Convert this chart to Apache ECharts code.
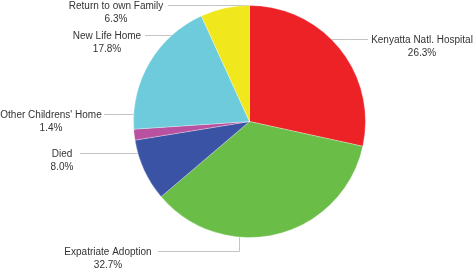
<!DOCTYPE html>
<html lang="en">
<head>
  <meta charset="UTF-8">
  <title>Where the children went</title>
  <style>
    * { margin: 0; padding: 0; }
    body { background: #fff; }
    #chart { width: 475px; height: 269px; }
  </style>
  <script src="https://cdn.jsdelivr.net/npm/echarts@6/dist/echarts.min.js"></script>
</head>
<body>
  <div id="chart"></div>
  <script>
    // slices, clockwise from 12 o'clock
    const names = ['Kenyatta Natl. Hospital', 'Expatriate Adoption', 'Died', "Other Childrens' Home", 'New Life Home', 'Return to own Family'];
    const shares = [26.3, 32.7, 8.0, 1.4, 17.8, 6.3];
    const colors = ['#ec2227', '#6abd46', '#3b53a4', '#b8519f', '#6dcbdc', '#f0e81d'];

    // pie geometry (px)
    const CX = 249.5, CY = 121.5, R = 116;

    // label spots: y of leader line, centre x of text, where the line stops near the text
    const spots = [
      { y: 39.5, tx: 422, end: 368 },
      { y: 251.5, tx: 108, end: 158, bendX: 239.5 },
      { y: 153.5, tx: 62, end: 80 },
      { y: 114.5, tx: 51, end: 104 },
      { y: 35.5, tx: 107, end: 145 },
      { y: 5.5, tx: 116, end: 168 }
    ];

    function edgeX(y, right) {
      const d = Math.sqrt(Math.max(0, R * R - (y - CY) * (y - CY)));
      return right ? CX + d : CX - d;
    }

    const chart = echarts.init(document.getElementById('chart'));
    chart.setOption({
      animation: false,
      color: colors,
      series: [{
        type: 'pie',
        center: [CX, CY],
        radius: R,
        startAngle: 90,
        clockwise: true,
        data: names.map((n, i) => ({ name: n, value: shares[i] })),
        itemStyle: { borderColor: 'rgba(255,255,255,0.6)', borderWidth: 0.5 },
        label: {
          show: true,
          overflow: 'none',
          formatter: p => p.name + '\n' + p.value.toFixed(1) + '%',
          fontFamily: 'Liberation Sans, Arial, sans-serif',
          fontSize: 10,
          lineHeight: 13.5,
          color: '#333'
        },
        labelLine: { show: true, lineStyle: { color: '#c4c4c4', width: 1 } },
        labelLayout: function (params) {
          const s = spots[params.dataIndex];
          let pts;
          if (s.bendX) {
            const ey = CY + Math.sqrt(R * R - (s.bendX - CX) * (s.bendX - CX));
            pts = [[s.bendX, ey], [s.bendX, s.y], [s.end, s.y]];
          } else {
            const ex = edgeX(s.y, s.end > CX);
            pts = [[ex, s.y], [(ex + s.end) / 2, s.y], [s.end, s.y]];
          }
          return {
            x: s.tx,
            y: s.y - 6.5,
            align: 'center',
            verticalAlign: 'top',
            labelLinePoints: pts
          };
        }
      }]
    });
  </script>
</body>
</html>
